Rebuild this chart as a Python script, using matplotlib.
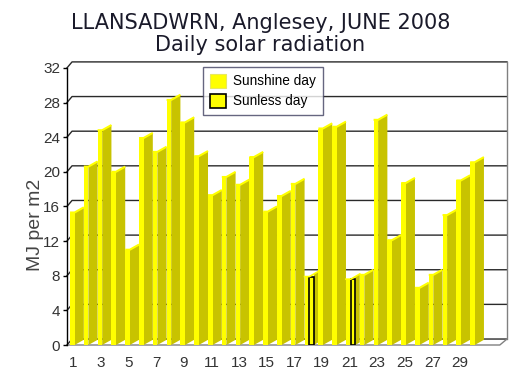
import matplotlib
matplotlib.use("Agg")
import matplotlib.pyplot as plt
from matplotlib.patches import Patch

# ---- data ----
days = list(range(1, 31))
radiation = [15.3, 20.6, 24.8, 20.0, 11.0, 23.9, 22.3, 28.3, 25.7, 21.8,
             17.3, 19.4, 18.5, 21.7, 15.4, 17.2, 18.6, 7.9, 25.0, 25.2,
             7.6, 8.1, 26.0, 12.1, 18.7, 6.6, 8.1, 15.0, 19.0, 21.1]
sunless_days = [18, 21]
yticks = [0, 4, 8, 12, 16, 20, 24, 28, 32]
xtick_labels = [1, 3, 5, 7, 9, 11, 13, 15, 17, 19, 21, 23, 25, 27, 29]
title = "LLANSADWRN, Anglesey, JUNE 2008\nDaily solar radiation"
ylabel = "MJ per m2"
legend_labels = ["Sunshine day", "Sunless day"]

YELLOW = "#FFFF00"
OLIVE = "#C8C300"

fig = plt.figure(figsize=(5.21, 3.78), dpi=100)
ax = fig.add_axes([0.1286, 0.0873, 0.8445, 0.7503])
xl, xr = 0.53, 32.42
ax.set_xlim(xl, xr)
ax.set_ylim(0, 32.75)
for s in ax.spines.values():
    s.set_visible(False)

# depth offsets (3D look)
ddy = 0.69
xback = 0.895
slope = 0.6

# back wall grid lines
for v in yticks:
    ax.plot([xl, xback, xr], [v, v + ddy, v + ddy], color="#2a2a2a", lw=1.0,
            clip_on=False, zorder=1)
# back wall right edge
ax.plot([xr, xr], [ddy, 32 + ddy], color="#808080", lw=1.0, clip_on=False, zorder=1)
# floor
xfl = 31.9
ax.plot([xl, xfl, xr], [0, 0, ddy], color="#808080", lw=1.0, clip_on=False, zorder=1)
# left axis
ax.plot([xl, xl], [0, 32], color="black", lw=1.0, clip_on=False, zorder=6)

# bars
for d, v in zip(days, radiation):
    s0 = d - 0.25
    if d in sunless_days:
        s1 = d + 0.10
        b1 = d + 0.42
        e = d + 0.75
        ax.bar([s0], [v], width=s1 - s0, align="edge", color=YELLOW, lw=0, zorder=3)
        ax.fill([b1, b1, e, e], [0.0, v + 0.3, v + slope, slope * 0.5], color=OLIVE,
                lw=0, zorder=3)
        ax.bar([s1], [v], width=b1 - s1, align="edge", color=YELLOW,
               edgecolor="black", lw=1.2, zorder=4)
        ax.plot([s0, s1, e], [v, v, v + slope], color=YELLOW, lw=1.2, zorder=4)
    else:
        s1 = d + 0.08
        e = d + 0.75
        ax.fill([s1, s1, e, e], [0.0, v, v + slope, slope], color=OLIVE, lw=0, zorder=3)
        ax.bar([s0], [v], width=s1 - s0, align="edge", color=YELLOW, lw=0, zorder=4)
        ax.plot([s0, s1, e], [v, v, v + slope], color=YELLOW, lw=1.5,
                solid_capstyle="butt", zorder=4)

# ticks
ax.set_yticks(yticks)
ax.set_yticklabels([str(t) for t in yticks], family="Liberation Sans", fontsize=11,
                   color="#333333")
ax.tick_params(axis="y", length=3, width=1, pad=2, color="black")
ax.set_xticks(xtick_labels)
ax.set_xticklabels([str(t) for t in xtick_labels], family="Liberation Sans",
                   fontsize=11, color="#333333")
ax.tick_params(axis="x", length=0, pad=8)

ax.set_ylabel(ylabel, family="Liberation Sans", fontsize=14, color="#444444")
ax.yaxis.set_label_coords(-0.052, 0.423)

fig.text(0.5, 0.965, title, ha="center", va="top", family="DejaVu Sans",
         fontsize=15, color="#1a1a2a", linespacing=1.08)

# legend
handles = [Patch(facecolor=YELLOW, edgecolor="#E8E860", lw=0.8),
           Patch(facecolor=YELLOW, edgecolor="black", lw=1.2)]
leg = ax.legend(handles, legend_labels, loc="upper left",
                bbox_to_anchor=((203 - 67) / 440, (345 - 67) / (32.75 * 8.66)),
                borderaxespad=0,
                prop={"family": "Liberation Sans", "size": 9.8},
                frameon=True, fancybox=False, borderpad=0.5, handlelength=1.2,
                handleheight=1.2, handletextpad=0.5, labelspacing=0.4)
leg.get_frame().set_edgecolor("#404060")
leg.get_frame().set_linewidth(1.0)
leg.set_zorder(10)

fig.savefig("out.png", dpi=100)
